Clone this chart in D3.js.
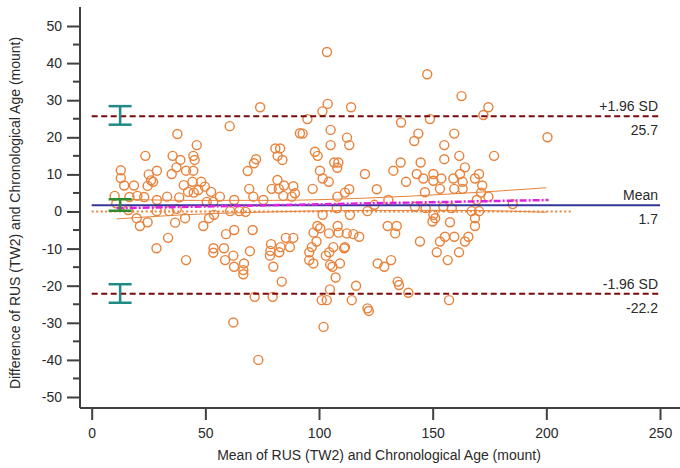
<!DOCTYPE html>
<html>
<head>
<meta charset="utf-8">
<script src="https://cdn.jsdelivr.net/npm/d3@7"></script>
<style>
  body { margin: 0; background: #fff; }
  svg text { font-family: "Liberation Sans", Arial, sans-serif; fill: #2a2a2a; }
</style>
</head>
<body>
<svg id="chart" width="680" height="468"></svg>
<script>
// Bland-Altman: mean of the two methods vs their difference
var meanVals = [
  74.1, 60.7, 37.7, 46.2, 23.6, 35.6, 39.0, 44.7, 45.3, 12.8, 25.1, 28.7, 37.3, 35.2, 41.5, 44.7,
  12.8, 14.3, 18.6, 26.1, 24.6, 40.5, 44.3, 48.2, 49.8, 52.5, 46.9, 10.1, 16.6, 20.1, 23.1, 28.7,
  33.2, 38.5, 42.4, 44.9, 56.4, 50.6, 53.5, 62.7, 69.3, 72.3, 71.4, 68.6, 80.8, 82.9, 81.8, 83.9,
  79.2, 82.3, 81.7, 84.6, 88.7, 84.3, 71.1, 75.5, 91.6, 27.0,
  16.1, 19.8, 21.2, 24.6, 28.6, 34.1, 37.4, 36.7, 41.1, 49.1, 51.6, 53.8, 33.6, 59.1, 62.7, 60.9,
  64.9, 67.7, 70.8, 28.5, 53.6, 58.2, 69.6, 78.9, 85.4, 88.7, 78.6, 83.1, 10.8,
  103.8, 101.5, 114.1, 94.9, 92.8, 105.1, 112.3, 113.3, 105.1, 98.2, 99.4, 106.7, 108.5, 108.0,
  100.4, 101.6, 104.3, 97.2, 89.4, 88.0, 120.2, 113.3, 111.4, 108.1, 125.4, 130.5, 136.1, 148.8,
  143.7, 141.9, 159.5, 155.1, 161.7, 155.1, 135.9, 132.7, 144.7, 143.0, 145.9, 138.3, 150.3, 150.3,
  153.8, 153.2, 146.6, 164.2, 162.0, 159.1, 163.2, 159.5, 163.2, 170.4, 168.6, 171.8, 171.3, 174.5,
  177.0, 169.4, 142.2, 146.9, 154.7, 158.4, 167.2, 170.4, 124.4, 107.8, 121.3, 101.6, 113.6, 150.3,
  151.1, 149.9, 157.6, 168.6, 168.6, 130.2, 134.2, 133.5, 99.3, 100.5, 97.6, 108.2, 108.6, 104.4,
  112.2, 115.1, 117.7, 155.4, 159.5, 165.7, 164.2, 144.4, 98.9, 111.4, 106.3, 96.8, 87.2,
  174.5, 172.3, 200.5, 185.2, 103.5, 147.6, 162.7,
  41.5, 53.5, 58.7, 62.3, 62.6, 67.0, 66.7, 66.7, 78.4, 82.5, 79.9, 83.6, 71.7, 79.6, 62.3, 73.3,
  95.7, 95.7, 97.5, 103.0, 104.5, 104.9, 105.9, 109.2, 111.1, 107.3, 104.8, 101.2, 103.4, 102.0,
  116.3, 114.4, 121.3, 121.9, 125.8, 128.7, 131.7, 134.6, 135.2, 139.3, 157.2, 151.8, 153.2, 156.6,
  161.6
];
var diffVals = [
  28.1, 23.0, 20.9, 17.9, 15.0, 15.0, 13.9, 15.0, 13.9, 11.1, 10.0, 11.0, 11.9, 10.1, 11.0, 11.0,
  9.0, 7.0, 7.0, 8.4, 6.9, 7.1, 8.0, 8.0, 6.7, 5.3, 5.8, 4.2, 3.9, 4.2, 3.9, 3.1,
  4.0, 3.8, 5.3, 5.1, 4.0, 2.6, 2.6, 3.1, 6.1, 14.1, 13.0, 10.9, 17.0, 17.0, 15.0, 13.9,
  6.1, 6.1, 8.5, 7.0, 6.8, 4.2, 4.0, 3.1, 21.1, 8.0,
  0.4, -1.8, -3.9, -2.9, 0.1, 0.1, 0.7, -3.0, -1.8, -3.9, -1.8, -0.9, -7.1, -6.1, -5.0, 0.1,
  0.1, -0.1, -5.0, -9.9, -9.9, -9.9, -10.7, -8.8, -7.1, -7.1, -10.6, -9.6, 2.2,
  29.0, 27.0, 28.1, 24.9, 21.0, 22.0, 19.9, 17.9, 17.9, 16.1, 15.0, 13.2, 13.2, 11.8,
  11.0, 8.9, 8.0, 6.1, 4.9, 4.0, 10.1, 6.0, 5.1, 4.0, 6.0, 3.1, 24.0, 24.9,
  21.0, 19.0, 21.0, 17.9, 15.0, 14.1, 13.2, 11.0, 13.2, 10.1, 8.9, 8.0, 10.1, 8.3,
  8.9, 6.1, 5.2, 11.9, 10.1, 8.9, 8.0, 6.1, 6.1, 10.1, 8.9, 7.0, 5.1, 4.0,
  15.0, 3.1, 1.3, 0.9, 1.3, 0.9, 0.1, 0.1, 1.8, 0.9, 0.1, -0.9, -0.9, -0.9,
  -1.8, -2.7, -2.9, -1.8, -3.9, -3.9, -3.9, -5.9, -3.9, -4.5, -5.7, -3.9, -5.7, -5.9,
  -5.9, -6.1, -6.8, -6.8, -6.8, -6.8, -8.1, -8.1, -8.1, -9.6, -9.6, -9.6, -9.6,
  28.1, 26.0, 20.0, 2.0, 43.0, 37.0, 31.1,
  -13.1, -11.1, -13.1, -11.9, -14.9, -14.0, -15.8, -16.9, -11.9, -11.0, -14.9, -18.9, -23.0, -23.0, -29.9, -40.0,
  -11.0, -13.1, -14.0, -11.9, -11.0, -14.4, -14.9, -14.0, -9.9, -17.8, -21.0, -23.9, -23.9, -31.1,
  -20.0, -23.9, -26.1, -26.8, -14.0, -14.9, -13.1, -18.9, -19.8, -21.9, -23.9, -11.0, -8.1, -13.1,
  -11.0
];

// reference lines
var meanDiff = 1.7;
var upperLoA = 25.7;
var lowerLoA = -22.2;
var lineLabels = ["+1.96 SD", "Mean", "-1.96 SD"];
var lineValues = ["25.7", "1.7", "-22.2"];

// 95% CI error bars (at the left of the plot)
var ciX = 12.5;
var meanCI = [0.2, 3.3];
var upperCI = [23.4, 28.4];
var lowerCI = [-24.6, -19.6];

// regression of differences and its 95% CI curves
var regX = [11, 201];
var regY = [0.9, 3.1];
var bandX = [11, 40, 80, 120, 160, 200];
var bandUpper = [3.4, 3.0, 3.0, 3.6, 4.8, 6.4];
var bandLower = [-2.0, -0.9, -0.1, 0.3, 0.3, -0.2];
var zeroLine = [0, 211];

var xTicks = [0, 50, 100, 150, 200, 250];
var yTicks = [-50, -40, -30, -20, -10, 0, 10, 20, 30, 40, 50];
var yMinor = [-45, -35, -25, -15, -5, 5, 15, 25, 35, 45];

var svg = d3.select('#chart');

var x = d3.scaleLinear().domain([0, 250]).range([91.7, 660]);
var y = d3.scaleLinear().domain([-50, 50]).range([397, 26]);

var axisColor = '#404040';
var plain = function(d) { return String(d); }; // keep ascii hyphen for negatives

// axes
var gx = svg.append('g')
  .attr('transform', 'translate(0,408)')
  .call(d3.axisBottom(x).tickValues(xTicks).tickFormat(plain)
    .tickSize(12).tickPadding(8).tickSizeOuter(0));
gx.select('.domain').attr('d', 'M80,0H680');

var gy = svg.append('g')
  .attr('transform', 'translate(80,0)')
  .call(d3.axisLeft(y).tickValues(yTicks).tickFormat(plain)
    .tickSize(13).tickPadding(5).tickSizeOuter(0));
gy.select('.domain').attr('d', 'M0,7V408');

gy.selectAll('.minor')
  .data(yMinor)
  .enter().append('line')
  .attr('class', 'minor')
  .attr('x1', -7).attr('x2', 0)
  .attr('y1', function(d) { return y(d); })
  .attr('y2', function(d) { return y(d); });

svg.selectAll('.domain, .tick line, .minor')
  .attr('stroke', axisColor)
  .attr('stroke-width', 2);
svg.selectAll('.tick text')
  .attr('font-size', 14)
  .attr('font-family', '"Liberation Sans", Arial, sans-serif')
  .attr('fill', '#2a2a2a');

// axis titles
svg.append('text')
  .attr('x', 379).attr('y', 460)
  .attr('text-anchor', 'middle')
  .attr('font-size', 14)
  .text('Mean of RUS (TW2) and Chronological Age (mount)');

svg.append('text')
  .attr('transform', 'translate(20,213) rotate(-90)')
  .attr('text-anchor', 'middle')
  .attr('font-size', 14)
  .text('Difference of RUS (TW2) and Chronological Age (mount)');

var line = d3.line()
  .x(function(d) { return x(d[0]); })
  .y(function(d) { return y(d[1]); });

// line of equality
svg.append('path')
  .attr('d', line([[zeroLine[0], 0], [zeroLine[1], 0]]))
  .attr('stroke', '#e8823a')
  .attr('stroke-width', 2)
  .attr('stroke-dasharray', '2,2.5')
  .attr('fill', 'none');

// regression CI curves
var band = d3.line()
  .curve(d3.curveMonotoneX)
  .x(function(d) { return x(d[0]); })
  .y(function(d) { return y(d[1]); });

[bandUpper, bandLower].forEach(function(vals) {
  svg.append('path')
    .attr('d', band(bandX.map(function(v, i) { return [v, vals[i]]; })))
    .attr('stroke', '#e8823a')
    .attr('stroke-width', 1)
    .attr('fill', 'none');
});

// data points
svg.append('g')
  .selectAll('circle')
  .data(meanVals)
  .enter().append('circle')
  .attr('cx', function(d) { return x(d); })
  .attr('cy', function(d, i) { return y(diffVals[i]); })
  .attr('r', 4.5)
  .attr('fill', 'none')
  .attr('stroke', '#e8823a')
  .attr('stroke-width', 1.4);

// mean and limits of agreement
svg.append('path')
  .attr('d', line([[0, meanDiff], [250, meanDiff]]))
  .attr('stroke', '#34349a')
  .attr('stroke-width', 2)
  .attr('fill', 'none');

[upperLoA, lowerLoA].forEach(function(v) {
  svg.append('path')
    .attr('d', line([[0, v], [250, v]]))
    .attr('stroke', '#7a0a0a')
    .attr('stroke-width', 2)
    .attr('stroke-dasharray', '6,3.5')
    .attr('fill', 'none');
});

// regression line
svg.append('path')
  .attr('d', line([[regX[0], regY[0]], [regX[1], regY[1]]]))
  .attr('stroke', '#e020e0')
  .attr('stroke-width', 2.5)
  .attr('stroke-dasharray', '7,2,2,2')
  .attr('fill', 'none');

// error bars
function errorBar(ci, color) {
  var g = svg.append('g').attr('stroke', color).attr('stroke-width', 2.5);
  g.append('line')
    .attr('x1', x(ciX)).attr('x2', x(ciX))
    .attr('y1', y(ci[0])).attr('y2', y(ci[1]));
  ci.forEach(function(v) {
    g.append('line')
      .attr('x1', x(ciX) - 11.5).attr('x2', x(ciX) + 11.5)
      .attr('y1', y(v)).attr('y2', y(v));
  });
}
errorBar(upperCI, '#1f8a86');
errorBar(lowerCI, '#1f8a86');
errorBar(meanCI, '#2e8b2e');

// labels on the right
[upperLoA, meanDiff, lowerLoA].forEach(function(v, i) {
  svg.append('text')
    .attr('x', 658).attr('y', y(v) - 5)
    .attr('text-anchor', 'end')
    .attr('font-size', 14)
    .text(lineLabels[i]);
  svg.append('text')
    .attr('x', 658).attr('y', y(v) + 19)
    .attr('text-anchor', 'end')
    .attr('font-size', 14)
    .text(lineValues[i]);
});
</script>
</body>
</html>
